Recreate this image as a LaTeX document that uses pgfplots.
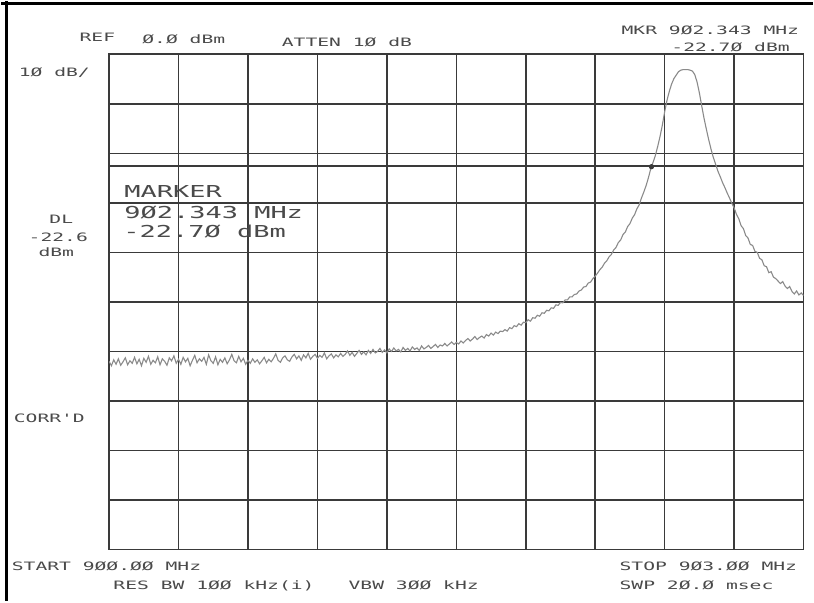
\documentclass[border=0pt]{standalone}
\usepackage{pgfplots}
\pgfplotsset{compat=1.18}
\usepackage{fontspec}
\usepackage{graphicx}
\newfontfamily\plotfont{DejaVu Sans Mono}
\definecolor{txt}{HTML}{4A4A4A}
\definecolor{gridc}{HTML}{3A3A3A}
\definecolor{trace}{HTML}{8A8A8A}
\newcommand\st[1]{\scalebox{1.7}[1]{\plotfont\fontsize{5.8pt}{6pt}\selectfont #1}}
\newcommand\bt[1]{\scalebox{1.64}[1]{\plotfont\fontsize{8.25pt}{9pt}\selectfont #1}}
\begin{document}
\begin{tikzpicture}
\begin{scope}[shift={(-54pt,275pt)}, x=0.5pt, y=-0.5pt]
\useasboundingbox (0,0) rectangle (814,602);
\end{scope}
\begin{axis}[name=ax, at={(0,0)}, anchor=south west,
  width=348.5pt, height=248.5pt, scale only axis,
  xmin=900, xmax=903, ymin=-100, ymax=0,
  xtick={900,900.3,900.6,900.9,901.2,901.5,901.8,902.1,902.4,902.7,903},
  ytick={-100,-90,-80,-70,-60,-50,-40,-30,-20,-10,0},
  xticklabels={}, yticklabels={}, major tick length=0pt,
  grid=major, grid style={gridc, line width=0.8pt},
  axis line style={gridc, line width=0.9pt},
  clip=true]
\addplot[gridc, line width=0.8pt, forget plot] coordinates {(900,-22.6) (903,-22.6)};
\addplot[trace, line width=0.55pt, mark=none] coordinates {
(900.00,-62.0) (900.01,-62.9) (900.02,-61.7) (900.03,-62.6) (900.04,-61.5) (900.05,-62.8) (900.06,-62.1) (900.07,-61.3) (900.08,-62.7) (900.09,-61.9)
(900.10,-62.4) (900.11,-61.2) (900.12,-62.5) (900.13,-61.6) (900.14,-62.9) (900.15,-61.4) (900.16,-62.2) (900.17,-61.0) (900.18,-62.6) (900.19,-61.8)
(900.20,-62.3) (900.21,-61.1) (900.22,-62.7) (900.23,-61.5) (900.24,-62.0) (900.25,-62.8) (900.26,-61.3) (900.27,-61.9) (900.28,-60.9) (900.29,-62.4)
(900.30,-61.6) (900.31,-62.6) (900.32,-61.2) (900.33,-62.1) (900.34,-61.4) (900.35,-62.9) (900.36,-61.8) (900.37,-60.8) (900.38,-62.3) (900.39,-61.5)
(900.40,-62.0) (900.41,-61.2) (900.42,-62.6) (900.43,-60.7) (900.44,-61.9) (900.45,-62.4) (900.46,-61.1) (900.47,-62.7) (900.48,-61.6) (900.49,-62.2)
(900.50,-61.3) (900.51,-62.5) (900.52,-61.7) (900.53,-60.6) (900.54,-61.9) (900.55,-62.3) (900.56,-61.0) (900.57,-62.1) (900.58,-61.4) (900.59,-62.6)
(900.60,-61.8) (900.61,-62.4) (900.62,-61.5) (900.63,-62.2) (900.64,-61.7) (900.65,-62.5) (900.66,-61.9) (900.67,-61.2) (900.68,-62.3) (900.69,-61.6)
(900.70,-62.1) (900.71,-61.4) (900.72,-60.5) (900.73,-61.8) (900.74,-62.2) (900.75,-61.3) (900.76,-60.9) (900.77,-61.7) (900.78,-62.0) (900.79,-61.1)
(900.80,-60.6) (900.81,-61.5) (900.82,-60.9) (900.83,-61.8) (900.84,-60.7) (900.85,-61.3) (900.86,-60.4) (900.87,-61.6) (900.88,-61.0) (900.89,-60.6)
(900.90,-61.4) (900.91,-60.8) (900.92,-61.2) (900.93,-60.3) (900.94,-61.5) (900.95,-60.9) (900.96,-60.5) (900.97,-61.3) (900.98,-60.7) (900.99,-61.1)
(901.00,-60.4) (901.01,-61.0) (901.02,-60.6) (901.03,-59.9) (901.04,-60.8) (901.05,-60.2) (901.06,-61.0) (901.07,-60.4) (901.08,-59.8) (901.09,-60.6)
(901.10,-60.1) (901.11,-60.7) (901.12,-59.8) (901.13,-60.4) (901.14,-59.6) (901.15,-60.3) (901.16,-60.0) (901.17,-59.4) (901.18,-60.2) (901.19,-59.7)
(901.20,-60.3) (901.21,-59.5) (901.22,-60.0) (901.23,-59.3) (901.24,-59.9) (901.25,-59.6) (901.26,-60.1) (901.27,-59.2) (901.28,-59.8) (901.29,-59.4)
(901.30,-59.9) (901.31,-59.1) (901.32,-59.6) (901.33,-59.3) (901.34,-59.8) (901.35,-58.9) (901.36,-59.5) (901.37,-59.2) (901.38,-58.8) (901.39,-59.4)
(901.40,-59.0) (901.41,-58.6) (901.42,-59.2) (901.43,-58.7) (901.44,-58.9) (901.45,-58.4) (901.46,-58.9) (901.47,-58.5) (901.48,-58.1) (901.49,-58.6)
(901.50,-58.2) (901.51,-58.5) (901.52,-57.9) (901.53,-58.3) (901.54,-57.8) (901.55,-57.4) (901.56,-57.9) (901.57,-57.5) (901.58,-57.0) (901.59,-57.6)
(901.60,-57.2) (901.61,-56.9) (901.62,-57.3) (901.63,-56.6) (901.64,-56.9) (901.65,-56.3) (901.66,-56.7) (901.67,-56.1) (901.68,-56.4) (901.69,-55.9)
(901.70,-56.0) (901.71,-55.6) (901.72,-55.9) (901.73,-55.2) (901.74,-55.4) (901.75,-54.8) (901.76,-55.0) (901.77,-54.4) (901.78,-54.7) (901.79,-54.1)
(901.80,-54.2) (901.81,-53.6) (901.82,-53.9) (901.83,-53.2) (901.84,-53.3) (901.85,-52.7) (901.86,-52.9) (901.87,-52.2) (901.88,-52.3) (901.89,-51.7)
(901.90,-51.8) (901.91,-51.2) (901.92,-51.3) (901.93,-50.6) (901.94,-50.7) (901.95,-50.1) (901.96,-50.2) (901.97,-49.6) (901.98,-49.6) (901.99,-49.0)
(902.00,-49.0) (902.01,-48.5) (902.02,-48.4) (902.03,-47.8) (902.04,-47.6) (902.05,-47.0) (902.06,-46.9) (902.07,-46.2) (902.08,-46.0) (902.09,-45.3)
(902.10,-44.8) (902.11,-44.2) (902.12,-43.5) (902.13,-43.0) (902.14,-42.2) (902.15,-41.7) (902.16,-40.9) (902.17,-40.4) (902.18,-39.5) (902.19,-39.0)
(902.20,-38.0) (902.21,-37.5) (902.22,-36.4) (902.23,-35.9) (902.24,-34.8) (902.25,-34.2) (902.26,-33.1) (902.27,-32.4) (902.28,-31.2) (902.29,-30.4)
(902.30,-29.0) (902.31,-27.8) (902.32,-26.5) (902.33,-24.9) (902.34,-23.1) (902.35,-21.8) (902.36,-20.4) (902.37,-18.6) (902.38,-16.6) (902.39,-14.3)
(902.40,-11.6) (902.41,-9.3) (902.42,-7.5) (902.43,-6.0) (902.44,-4.9) (902.45,-4.2) (902.46,-3.5) (902.47,-3.2) (902.48,-3.1) (902.49,-3.1)
(902.50,-3.1) (902.51,-3.2) (902.52,-3.4) (902.53,-4.1) (902.54,-5.6) (902.55,-7.8) (902.56,-10.4) (902.57,-12.9) (902.58,-15.1) (902.59,-17.2)
(902.60,-19.1) (902.61,-20.8) (902.62,-22.2) (902.63,-23.6) (902.64,-24.7) (902.65,-25.9) (902.66,-26.9) (902.67,-28.0) (902.68,-29.0) (902.69,-30.1)
(902.70,-31.0) (902.71,-32.3) (902.72,-33.2) (902.73,-34.6) (902.74,-35.2) (902.75,-36.6) (902.76,-37.1) (902.77,-38.4) (902.78,-38.6) (902.79,-39.8)
(902.80,-40.0) (902.81,-41.2) (902.82,-41.5) (902.83,-42.7) (902.84,-42.9) (902.85,-44.1) (902.86,-43.9) (902.87,-45.0) (902.88,-45.3) (902.89,-45.8)
(902.90,-46.3) (902.91,-45.9) (902.92,-46.8) (902.93,-47.3) (902.94,-46.9) (902.95,-47.9) (902.96,-48.4) (902.97,-47.8) (902.98,-48.6) (902.99,-48.2)
(903.00,-48.7)
};
\addplot[only marks, mark=*, mark size=1.1pt, gridc] coordinates {(902.343,-22.7)};
\end{axis}
\begin{scope}[shift={(-54pt,275pt)}, x=0.5pt, y=-0.5pt, every node/.style={inner sep=0pt, text=txt}]
\draw[black, line width=1.5pt] (5,0) -- (5,602);
\draw[black, line width=1.5pt] (0,2) -- (814,2);
\node[anchor=base west] at (78,40) {\st{REF}};
\node[anchor=base west] at (141,42) {\st{Ø.Ø dBm}};
\node[anchor=base west] at (281,45) {\st{ATTEN 1Ø dB}};
\node[anchor=base west] at (622,33) {\st{MKR 9Ø2.343 MHz}};
\node[anchor=base west] at (672,50) {\st{-22.7Ø dBm}};
\node[anchor=base west] at (17,75) {\st{1Ø dB/}};
\node[anchor=base west] at (123,197) {\bt{MARKER}};
\node[anchor=base west] at (123,218) {\bt{9Ø2.343 MHz}};
\node[anchor=base west] at (122,237) {\bt{-22.7Ø dBm}};
\node[anchor=base] at (60,223) {\st{DL}};
\node[anchor=base] at (57,241) {\st{-22.6}};
\node[anchor=base] at (55,256) {\st{dBm}};
\node[anchor=base west] at (12,423) {\st{CORR'D}};
\node[anchor=base west] at (10,571) {\st{START 9ØØ.ØØ MHz}};
\node[anchor=base west] at (112,590) {\st{RES BW 1ØØ kHz(i)}};
\node[anchor=base west] at (348,590) {\st{VBW 3ØØ kHz}};
\node[anchor=base west] at (620,571) {\st{STOP 9Ø3.ØØ MHz}};
\node[anchor=base west] at (620,590) {\st{SWP 2Ø.Ø msec}};
\end{scope}
\end{tikzpicture}
\end{document}
